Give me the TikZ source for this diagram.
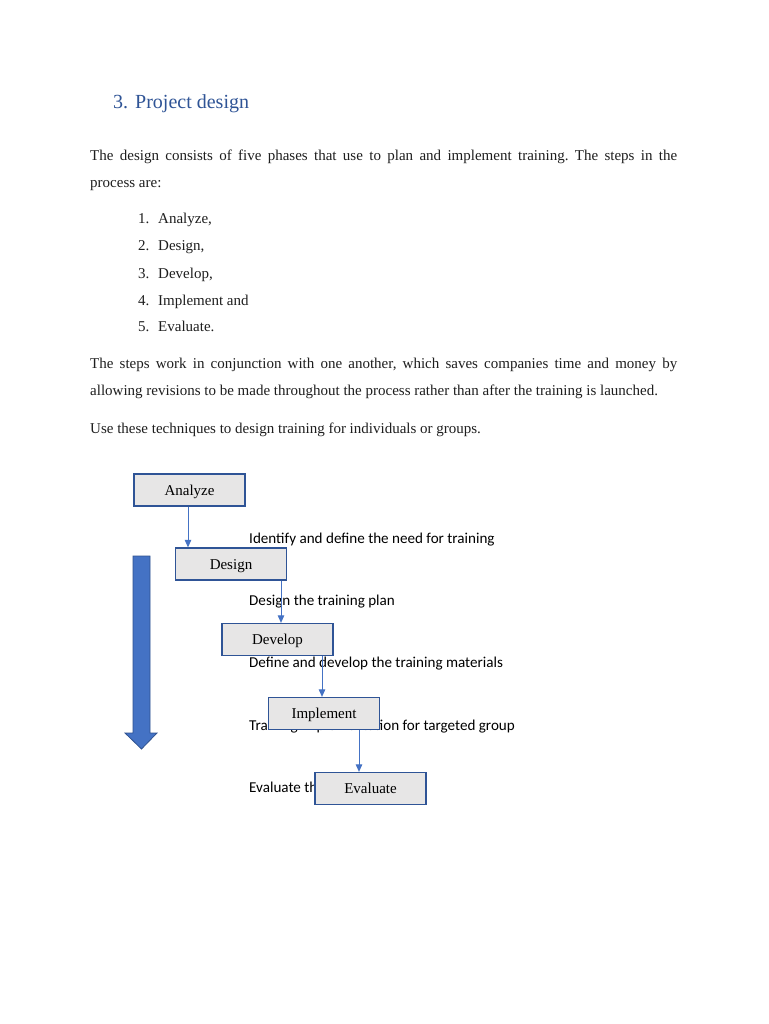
\documentclass[tikz,border=0pt]{standalone}
\usepackage{fontspec}
\setmainfont{Liberation Serif}
\newfontfamily\lab{Carlito}
\usetikzlibrary{arrows.meta}
\frenchspacing
\definecolor{headblue}{HTML}{2F5496}
\definecolor{boxfill}{HTML}{E7E6E6}
\definecolor{boxline}{HTML}{2F5496}
\definecolor{arrblue}{HTML}{4472C4}
\definecolor{arrline}{HTML}{2F528F}
\definecolor{bodytext}{HTML}{1E1E1E}
\begin{document}
\begin{tikzpicture}[x=1pt,y=-1pt,
  body/.style={anchor=base west,inner sep=0pt,text=bodytext,font=\fontsize{15}{18}\selectfont},
  lbl/.style={anchor=base west,inner sep=0pt,text=black,font=\lab\fontsize{15.1}{18}\selectfont},
  stepbox/.style={draw=boxline,line width=1.3pt,fill=boxfill,minimum width=111pt,minimum height=32pt,inner sep=0pt,text height=12pt,text depth=2pt,font=\fontsize{15}{18}\selectfont,text=black},
  conn/.style={draw=arrblue,line width=0.9pt,-{Triangle[width=6.5pt,length=7.5pt]}}]
\useasboundingbox[fill=white] (0,0) rectangle (768,1024);
% heading
\node[anchor=base west,inner sep=0pt,text=headblue,font=\fontsize{20}{24}\selectfont] (head) at (113,109) {3.\hspace{7pt}Project design};
% paragraph 1
\node[body] (p1a) at (90,161) {\makebox[587pt][s]{The design consists of five phases that use to plan and implement training. The steps in the}};
\node[body] (p1b) at (90,188) {process are:};
% list
\node[body] (num1) at (138,224) {1.}; \node[body] (item1) at (158,224) {Analyze,};
\node[body] (num2) at (138,251) {2.}; \node[body] (item2) at (158,251) {Design,};
\node[body] (num3) at (138,278) {3.}; \node[body] (item3) at (158,278) {Develop,};
\node[body] (num4) at (138,305) {4.}; \node[body] (item4) at (158,305) {Implement and};
\node[body] (num5) at (138,331) {5.}; \node[body] (item5) at (158,331) {Evaluate.};
% paragraph 2
\node[body] (p2a) at (90,368) {\makebox[587pt][s]{The steps work in conjunction with one another, which saves companies time and money by}};
\node[body] (p2b) at (90,395) {allowing revisions to be made throughout the process rather than after the training is launched.};
% paragraph 3
\node[body] (p3) at (90,433) {Use these techniques to design training for individuals or groups.};
% big arrow
\draw[fill=arrblue,draw=arrline,line width=0.8pt] (133,556) -- (150,556) -- (150,733) -- (157,733) -- (141.5,749) -- (125,733) -- (133,733) -- cycle;
% labels
\node[lbl] (l1) at (249,543) {Identify and define the need for training};
\node[lbl] (l2) at (249,605) {Design the training plan};
\node[lbl] (l3) at (249,667) {Define and develop the training materials};
\node[lbl] (l4) at (249,730) {Training implementation for targeted group};
\node[lbl] (l5) at (249,792) {Evaluate the training};
% boxes
\node[stepbox] (analyze) at (189.5,490) {Analyze};
\node[stepbox] (design) at (231,564) {Design};
\node[stepbox] (develop) at (277.5,639.5) {Develop};
\node[stepbox] (implement) at (324,713.5) {Implement};
\node[stepbox] (evaluate) at (370.5,788.5) {Evaluate};
% connectors
\draw[conn] ([xshift=-1.5pt]analyze.south) -- ([xshift=-1.5pt]analyze.south |- design.north);
\draw[conn] ([xshift=50pt]design.south) -- ([xshift=50pt]design.south |- develop.north);
\draw[conn] ([xshift=44.5pt]develop.south) -- ([xshift=44.5pt]develop.south |- implement.north);
\draw[conn] ([xshift=35pt]implement.south) -- ([xshift=35pt]implement.south |- evaluate.north);
\end{tikzpicture}
\end{document}
